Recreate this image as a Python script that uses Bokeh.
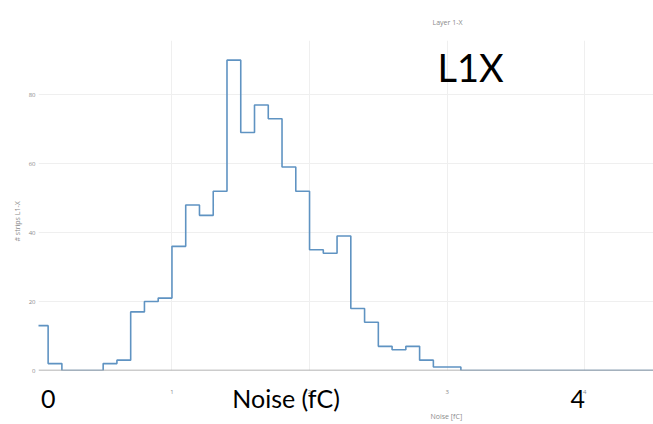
from bokeh.plotting import figure
from bokeh.models import Range1d, Label, Span, FixedTicker, LinearAxis, Title
from bokeh.embed import file_html
from bokeh.resources import INLINE

# Histogram of strip noise for layer 1-X, 0.1 fC bins starting at 0
bin_width = 0.1
counts = [13, 2, 0, 0, 0, 2, 3, 17, 20, 21,
          36, 48, 45, 52, 90, 69, 77, 73, 59, 52,
          35, 34, 39, 18, 14, 7, 6, 7, 3, 1,
          1, 0, 0, 0, 0, 0, 0, 0, 0, 0,
          0, 0, 0, 0, 0]
edges = [round(i * bin_width, 2) for i in range(len(counts) + 1)]

x_ticks = [1, 2, 3, 4]
y_ticks = [0, 20, 40, 60, 80]

# large annotation texts along the x axis and where they sit (in fC)
big_x_labels = ["0", "Noise (fC)", "4"]
big_x_label_pos = [0.10, 1.83, 3.95]

small_font = "Open Sans"
big_font = "Lato"
small_color = "#8a8a8a"

p = figure(width=653, height=424,
           x_range=Range1d(0.03, 4.5), y_range=Range1d(0, 95.7),
           output_backend="svg", toolbar_location=None,
           min_border_left=38, min_border_right=0,
           min_border_top=40, min_border_bottom=54)
p.outline_line_color = None
p.background_fill_color = "white"
p.border_fill_color = "white"

for ax in (p.xaxis, p.yaxis):
    ax.axis_line_color = None
    ax.major_tick_line_color = None
    ax.minor_tick_line_color = None
    ax.major_tick_out = 0
    ax.major_tick_in = 0
    ax.minor_tick_out = 0
    ax.minor_tick_in = 0
    ax.major_label_text_font = small_font
    ax.major_label_text_font_size = "6px"
    ax.major_label_text_color = small_color

p.xaxis.ticker = FixedTicker(ticks=x_ticks)
p.yaxis.ticker = FixedTicker(ticks=y_ticks)
p.xaxis.major_label_standoff = 19
p.yaxis.major_label_standoff = 3

p.xgrid.ticker = FixedTicker(ticks=x_ticks)
p.ygrid.ticker = FixedTicker(ticks=y_ticks[1:])
p.grid.grid_line_color = "#efefef"
p.grid.grid_line_width = 1

# zero line
p.add_layout(Span(location=0, dimension="width", line_color="#9a9a9a", line_width=1.5))

# step outline of the histogram
p.step(x=edges, y=counts + [counts[-1]], mode="after",
       line_color="#5f93c2", line_width=1.6)

# large labels under the axis
big_axis = LinearAxis(ticker=FixedTicker(ticks=big_x_label_pos),
                      major_label_overrides={v: t for v, t in zip(big_x_label_pos, big_x_labels)},
                      axis_line_color=None, major_tick_line_color=None, minor_tick_line_color=None,
                      major_tick_out=0, major_tick_in=0, minor_tick_out=0, minor_tick_in=0,
                      major_label_standoff=-14,
                      major_label_text_font=big_font, major_label_text_font_size="25px",
                      major_label_text_color="black")
p.add_layout(big_axis, "below")

# small titles
p.add_layout(Title(text="Noise [fC]", align="left", offset=392, standoff=-11,
                   text_font=small_font, text_font_size="7px", text_font_style="normal",
                   text_color=small_color), "below")
p.add_layout(Title(text="Layer 1-X", align="left", offset=394, standoff=28,
                   text_font=small_font, text_font_size="7px", text_font_style="normal",
                   text_color=small_color), "above")
p.add_layout(Title(text="# strips L1-X", align="left", offset=129, standoff=8,
                   text_font=small_font, text_font_size="7px", text_font_style="normal",
                   text_color=small_color), "left")

# panel label
p.add_layout(Label(x=399, y=281, x_units="screen", y_units="screen", text="L1X",
                   text_font=big_font, text_font_size="38px", text_color="black",
                   text_align="left", text_baseline="bottom"))

open("out.html", "w").write(file_html(p, INLINE))
